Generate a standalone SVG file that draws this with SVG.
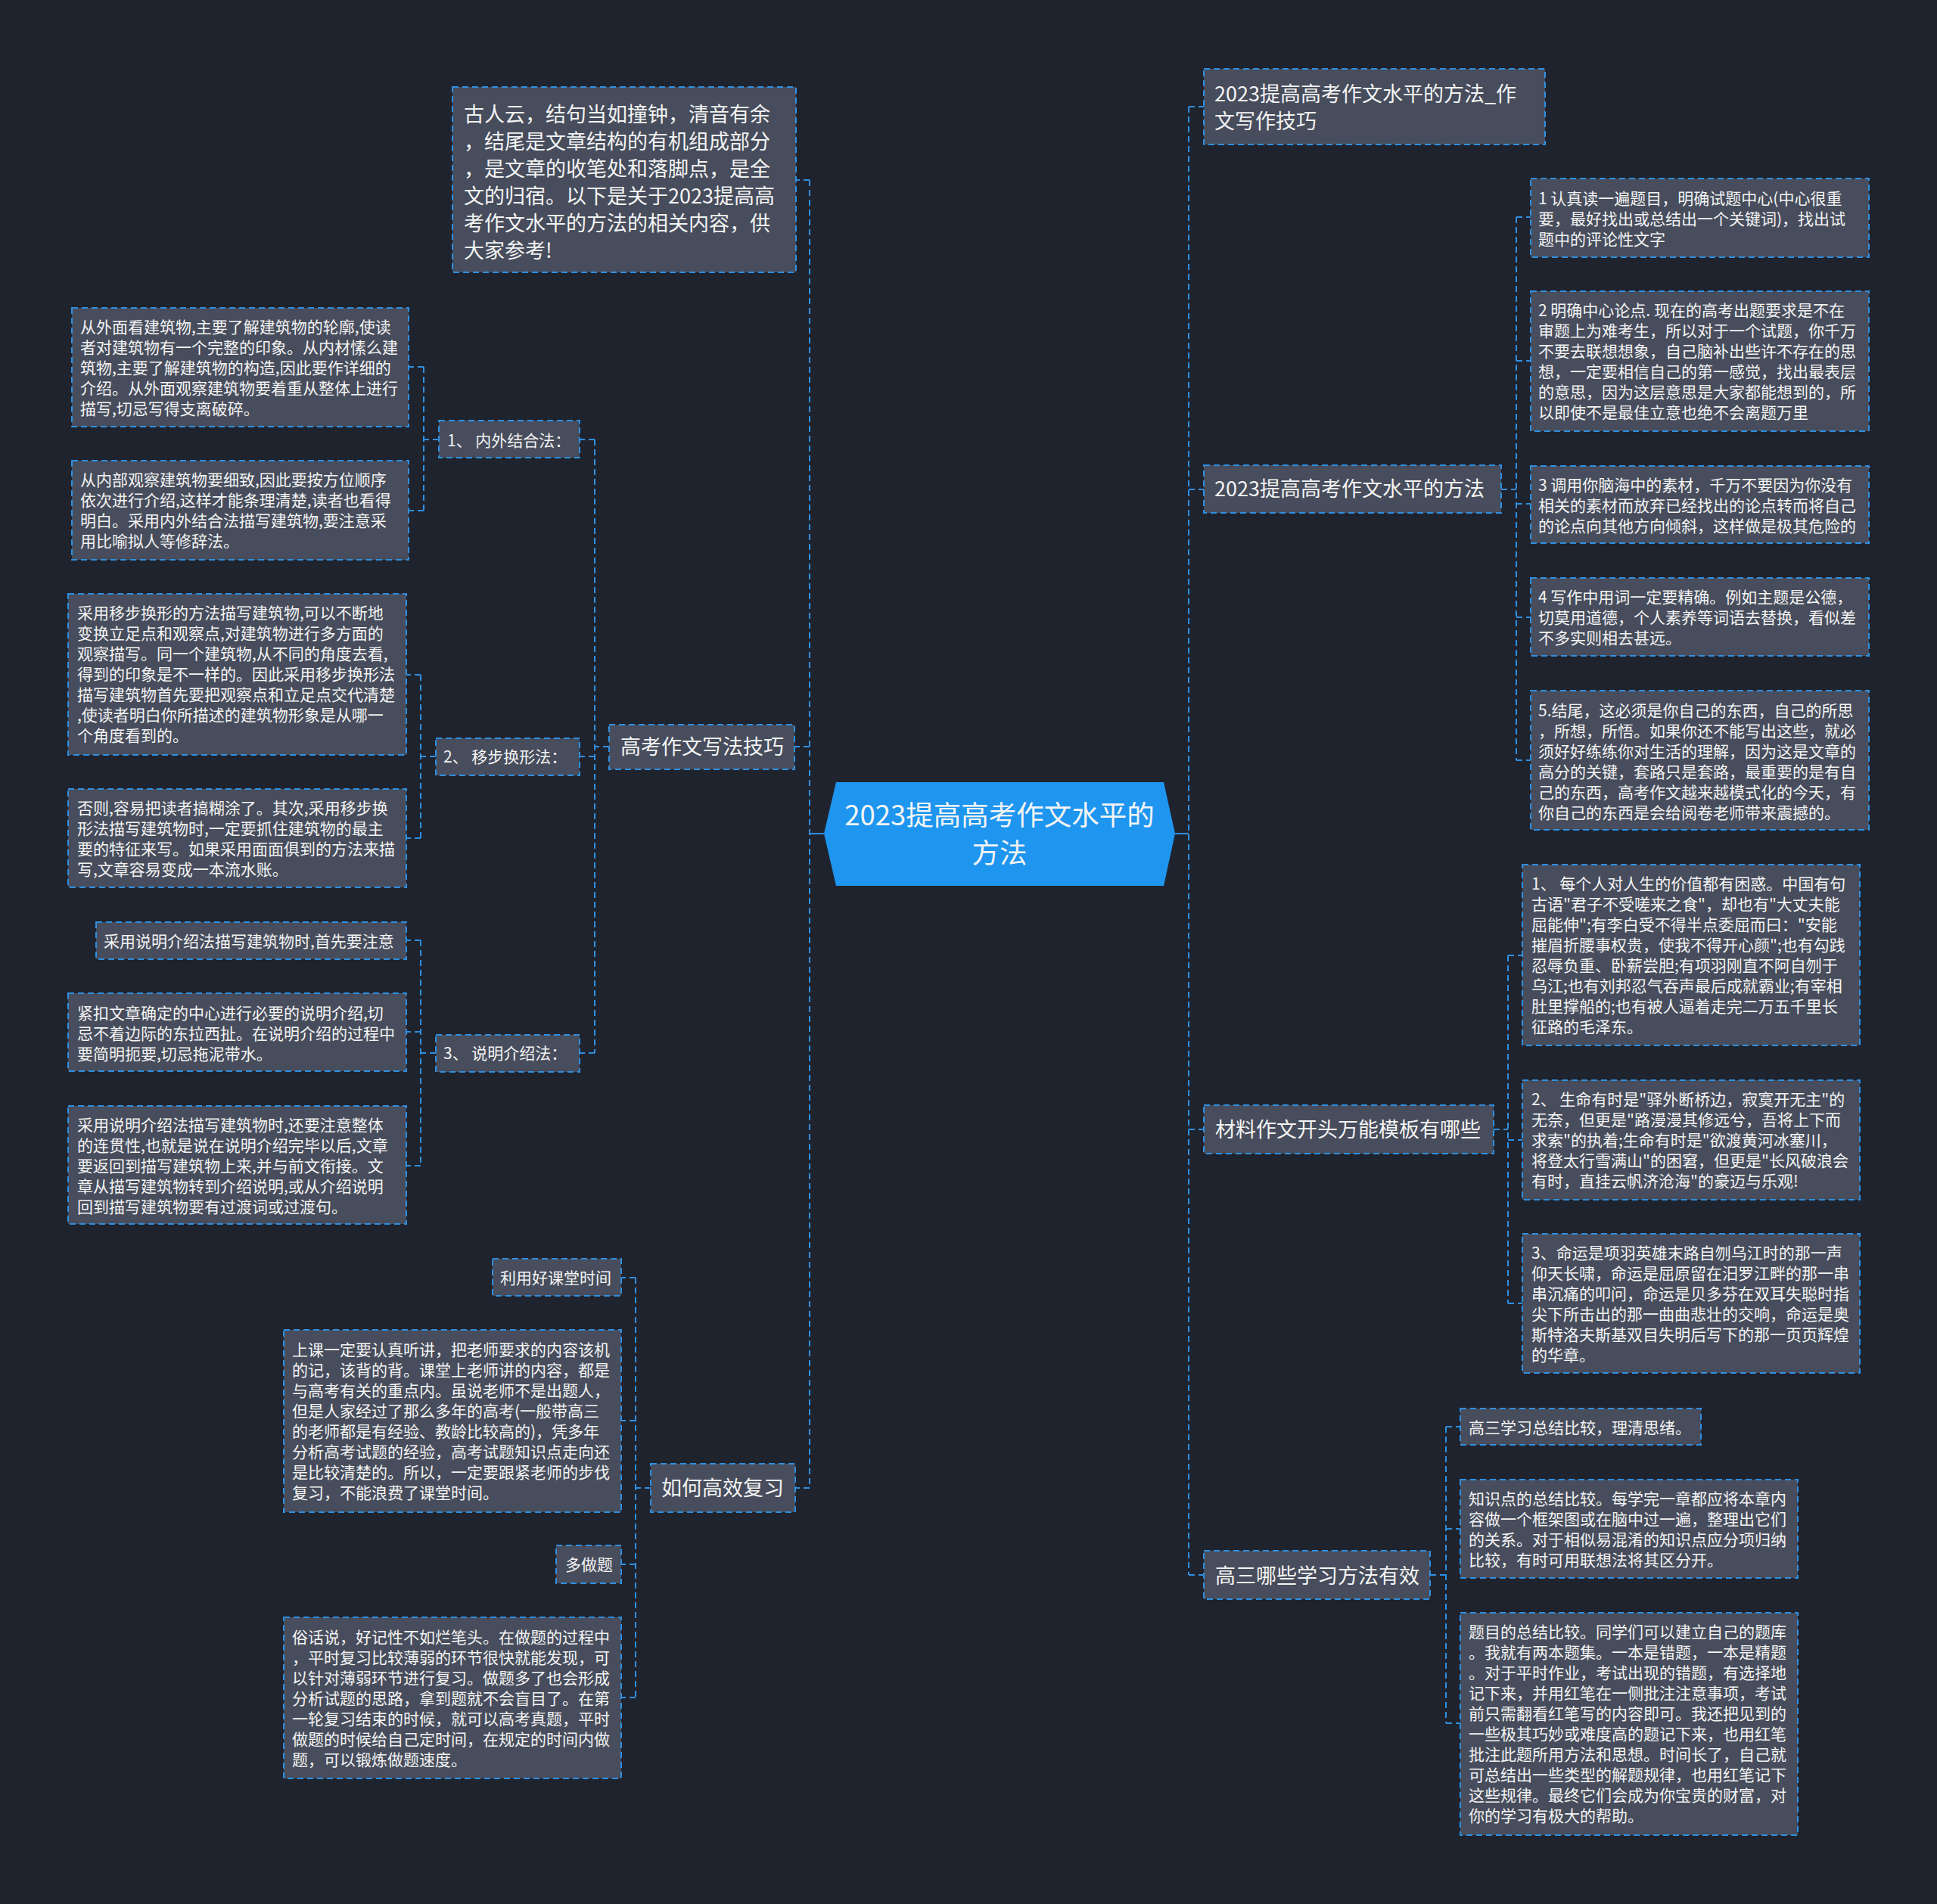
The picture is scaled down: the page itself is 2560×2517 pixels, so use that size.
<svg xmlns="http://www.w3.org/2000/svg" width="2560" height="2517" viewBox="0 0 2560 2517">
<style>
.n{fill:#474d5c;stroke:#2e8fe0;stroke-width:2;stroke-dasharray:8 5}
.c{fill:none;stroke:#2e8fe0;stroke-width:2;stroke-dasharray:8 5}
.cs{fill:none;stroke:#2e8fe0;stroke-width:2}
text{font-family:"Noto Sans CJK SC","Noto Sans",sans-serif;fill:#f4f4f4}
.s{font-size:21px}
.m{font-size:27px}
.r{font-size:36.5px;text-anchor:middle}
</style>
<rect width="2560" height="2517" fill="#1f232e"/>
<g id="connectors">
<path class="cs" d="M1089,1102H1070M1553,1102H1571"/>
<path class="c" d="M1070,238V1967M1070,238H1052M1070,987H1050M1070,1967H1051"/>
<path class="c" d="M1571,141V2082M1571,141H1591M1571,647H1591M1571,1493H1591M1571,2082H1591"/>
<path class="c" d="M805,987H786M786,581V1392M786,581H766M786,1000H766M786,1392H766"/>
<path class="c" d="M580,581H560M560,485V675M560,485H540M560,675H540"/>
<path class="c" d="M576,1000H556M556,892V1108M556,892H537M556,1108H537"/>
<path class="c" d="M576,1392H556M556,1243V1541M556,1243H537M556,1364H537M556,1541H537"/>
<path class="c" d="M860,1967H840M840,1689V2244M840,1689H821M840,1878H821M840,2068H821M840,2244H821"/>
<path class="c" d="M1984,647H2004M2004,287V1005M2004,287H2023M2004,477H2023M2004,666H2023M2004,816H2023M2004,1005H2023"/>
<path class="c" d="M1974,1493H1993M1993,1263V1723M1993,1263H2012M1993,1507H2012M1993,1723H2012"/>
<path class="c" d="M1890,2082H1911M1911,1886V2278M1911,1886H1930M1911,2021H1930M1911,2278H1930"/>
</g>
<g id="root">
<polygon points="1089,1102 1105,1034 1538,1034 1553,1102 1538,1171 1105,1171" fill="#1e96f0"/>
<text class="r" x="1321" y="1091">2023提高高考作文水平的</text>
<text class="r" x="1321" y="1141">方法</text>
</g>
<g id="intro">
<rect class="n" x="598" y="115" width="454" height="245"/>
<text class="m" x="613"><tspan x="613" y="161">古人云，结句当如撞钟，清音有余</tspan><tspan x="613" y="197">，结尾是文章结构的有机组成部分</tspan><tspan x="613" y="233">，是文章的收笔处和落脚点，是全</tspan><tspan x="613" y="269">文的归宿。以下是关于2023提高高</tspan><tspan x="613" y="305">考作文水平的方法的相关内容，供</tspan><tspan x="613" y="341">大家参考!</tspan></text>
</g>
<g id="writing">
<rect class="n" x="805" y="958" width="245" height="59"/>
<text class="m" x="820" y="997">高考作文写法技巧</text>
</g>
<g id="m1">
<rect class="n" x="580" y="556" width="186" height="49"/>
<text class="s" x="591" y="590">1、 内外结合法：</text>
</g>
<g id="leafA">
<rect class="n" x="95" y="407" width="445" height="157"/>
<text class="s"><tspan x="106" y="440">从外面看建筑物,主要了解建筑物的轮廓,使读</tspan><tspan x="106" y="467">者对建筑物有一个完整的印象。从内材愫么建</tspan><tspan x="106" y="494">筑物,主要了解建筑物的构造,因此要作详细的</tspan><tspan x="106" y="521">介绍。从外面观察建筑物要着重从整体上进行</tspan><tspan x="106" y="548">描写,切忌写得支离破碎。</tspan></text>
</g>
<g id="leafB">
<rect class="n" x="95" y="609" width="445" height="131"/>
<text class="s"><tspan x="106" y="642">从内部观察建筑物要细致,因此要按方位顺序</tspan><tspan x="106" y="669">依次进行介绍,这样才能条理清楚,读者也看得</tspan><tspan x="106" y="696">明白。采用内外结合法描写建筑物,要注意采</tspan><tspan x="106" y="723">用比喻拟人等修辞法。</tspan></text>
</g>
<g id="m2">
<rect class="n" x="576" y="976" width="190" height="49"/>
<text class="s" x="586" y="1008">2、 移步换形法：</text>
</g>
<g id="leafC">
<rect class="n" x="90" y="785" width="447" height="213"/>
<text class="s"><tspan x="102" y="818">采用移步换形的方法描写建筑物,可以不断地</tspan><tspan x="102" y="845">变换立足点和观察点,对建筑物进行多方面的</tspan><tspan x="102" y="872">观察描写。同一个建筑物,从不同的角度去看,</tspan><tspan x="102" y="899">得到的印象是不一样的。因此采用移步换形法</tspan><tspan x="102" y="926">描写建筑物首先要把观察点和立足点交代清楚</tspan><tspan x="102" y="953">,使读者明白你所描述的建筑物形象是从哪一</tspan><tspan x="102" y="980">个角度看到的。</tspan></text>
</g>
<g id="leafD">
<rect class="n" x="90" y="1043" width="447" height="130"/>
<text class="s"><tspan x="102" y="1076">否则,容易把读者搞糊涂了。其次,采用移步换</tspan><tspan x="102" y="1103">形法描写建筑物时,一定要抓住建筑物的最主</tspan><tspan x="102" y="1130">要的特征来写。如果采用面面俱到的方法来描</tspan><tspan x="102" y="1157">写,文章容易变成一本流水账。</tspan></text>
</g>
<g id="m3">
<rect class="n" x="576" y="1368" width="190" height="49"/>
<text class="s" x="586" y="1400">3、 说明介绍法：</text>
</g>
<g id="leafE">
<rect class="n" x="127" y="1219" width="410" height="49"/>
<text class="s" x="137" y="1252">采用说明介绍法描写建筑物时,首先要注意</text>
</g>
<g id="leafF">
<rect class="n" x="90" y="1313" width="447" height="103"/>
<text class="s"><tspan x="102" y="1347">紧扣文章确定的中心进行必要的说明介绍,切</tspan><tspan x="102" y="1374">忌不着边际的东拉西扯。在说明介绍的过程中</tspan><tspan x="102" y="1401">要简明扼要,切忌拖泥带水。</tspan></text>
</g>
<g id="leafG">
<rect class="n" x="90" y="1462" width="447" height="156"/>
<text class="s"><tspan x="102" y="1495">采用说明介绍法描写建筑物时,还要注意整体</tspan><tspan x="102" y="1522">的连贯性,也就是说在说明介绍完毕以后,文章</tspan><tspan x="102" y="1549">要返回到描写建筑物上来,并与前文衔接。文</tspan><tspan x="102" y="1576">章从描写建筑物转到介绍说明,或从介绍说明</tspan><tspan x="102" y="1603">回到描写建筑物要有过渡词或过渡句。</tspan></text>
</g>
<g id="review">
<rect class="n" x="860" y="1935" width="191" height="64"/>
<text class="m" x="874" y="1977">如何高效复习</text>
</g>
<g id="r1">
<rect class="n" x="651" y="1664" width="170" height="49"/>
<text class="s" x="661" y="1697">利用好课堂时间</text>
</g>
<g id="r2">
<rect class="n" x="375" y="1758" width="446" height="241"/>
<text class="s"><tspan x="386" y="1792">上课一定要认真听讲，把老师要求的内容该机</tspan><tspan x="386" y="1819">的记，该背的背。课堂上老师讲的内容，都是</tspan><tspan x="386" y="1846">与高考有关的重点内。虽说老师不是出题人，</tspan><tspan x="386" y="1873">但是人家经过了那么多年的高考(一般带高三</tspan><tspan x="386" y="1900">的老师都是有经验、教龄比较高的)，凭多年</tspan><tspan x="386" y="1927">分析高考试题的经验，高考试题知识点走向还</tspan><tspan x="386" y="1954">是比较清楚的。所以，一定要跟紧老师的步伐</tspan><tspan x="386" y="1981">复习，不能浪费了课堂时间。</tspan></text>
</g>
<g id="r3">
<rect class="n" x="735" y="2043" width="86" height="50"/>
<text class="s" x="747" y="2076">多做题</text>
</g>
<g id="r4">
<rect class="n" x="375" y="2138" width="446" height="213"/>
<text class="s"><tspan x="386" y="2172">俗话说，好记性不如烂笔头。在做题的过程中</tspan><tspan x="386" y="2199">，平时复习比较薄弱的环节很快就能发现，可</tspan><tspan x="386" y="2226">以针对薄弱环节进行复习。做题多了也会形成</tspan><tspan x="386" y="2253">分析试题的思路，拿到题就不会盲目了。在第</tspan><tspan x="386" y="2280">一轮复习结束的时候，就可以高考真题，平时</tspan><tspan x="386" y="2307">做题的时候给自己定时间，在规定的时间内做</tspan><tspan x="386" y="2334">题，可以锻炼做题速度。</tspan></text>
</g>
<g id="title">
<rect class="n" x="1591" y="91" width="451" height="100"/>
<text class="m"><tspan x="1605" y="134">2023提高高考作文水平的方法_作</tspan><tspan x="1605" y="170">文写作技巧</tspan></text>
</g>
<g id="method">
<rect class="n" x="1591" y="615" width="393" height="63"/>
<text class="m" x="1605" y="656">2023提高高考作文水平的方法</text>
</g>
<g id="c1">
<rect class="n" x="2023" y="236" width="447" height="104"/>
<text class="s"><tspan x="2033" y="270">1 认真读一遍题目，明确试题中心(中心很重</tspan><tspan x="2033" y="297">要，最好找出或总结出一个关键词)，找出试</tspan><tspan x="2033" y="324">题中的评论性文字</tspan></text>
</g>
<g id="c2">
<rect class="n" x="2023" y="385" width="447" height="185"/>
<text class="s"><tspan x="2033" y="418">2 明确中心论点. 现在的高考出题要求是不在</tspan><tspan x="2033" y="445">审题上为难考生，所以对于一个试题，你千万</tspan><tspan x="2033" y="472">不要去联想想象，自己脑补出些许不存在的思</tspan><tspan x="2033" y="499">想，一定要相信自己的第一感觉，找出最表层</tspan><tspan x="2033" y="526">的意思，因为这层意思是大家都能想到的，所</tspan><tspan x="2033" y="553">以即使不是最佳立意也绝不会离题万里</tspan></text>
</g>
<g id="c3">
<rect class="n" x="2023" y="616" width="447" height="102"/>
<text class="s"><tspan x="2033" y="649">3 调用你脑海中的素材，千万不要因为你没有</tspan><tspan x="2033" y="676">相关的素材而放弃已经找出的论点转而将自己</tspan><tspan x="2033" y="703">的论点向其他方向倾斜，这样做是极其危险的</tspan></text>
</g>
<g id="c4">
<rect class="n" x="2023" y="764" width="447" height="103"/>
<text class="s"><tspan x="2033" y="797">4 写作中用词一定要精确。例如主题是公德，</tspan><tspan x="2033" y="824">切莫用道德，个人素养等词语去替换，看似差</tspan><tspan x="2033" y="851">不多实则相去甚远。</tspan></text>
</g>
<g id="c5">
<rect class="n" x="2023" y="913" width="447" height="184"/>
<text class="s"><tspan x="2033" y="947">5.结尾，这必须是你自己的东西，自己的所思</tspan><tspan x="2033" y="974">，所想，所悟。如果你还不能写出这些，就必</tspan><tspan x="2033" y="1001">须好好练练你对生活的理解，因为这是文章的</tspan><tspan x="2033" y="1028">高分的关键，套路只是套路，最重要的是有自</tspan><tspan x="2033" y="1055">己的东西，高考作文越来越模式化的今天，有</tspan><tspan x="2033" y="1082">你自己的东西是会给阅卷老师带来震撼的。</tspan></text>
</g>
<g id="material">
<rect class="n" x="1591" y="1461" width="383" height="64"/>
<text class="m" x="1606" y="1503">材料作文开头万能模板有哪些</text>
</g>
<g id="mt1">
<rect class="n" x="2012" y="1143" width="446" height="239"/>
<text class="s"><tspan x="2024" y="1176">1、 每个人对人生的价值都有困惑。中国有句</tspan><tspan x="2024" y="1203">古语"君子不受嗟来之食"，却也有"大丈夫能</tspan><tspan x="2024" y="1230">屈能伸";有李白受不得半点委屈而曰："安能</tspan><tspan x="2024" y="1257">摧眉折腰事权贵，使我不得开心颜";也有勾践</tspan><tspan x="2024" y="1284">忍辱负重、卧薪尝胆;有项羽刚直不阿自刎于</tspan><tspan x="2024" y="1311">乌江;也有刘邦忍气吞声最后成就霸业;有宰相</tspan><tspan x="2024" y="1338">肚里撑船的;也有被人逼着走完二万五千里长</tspan><tspan x="2024" y="1365">征路的毛泽东。</tspan></text>
</g>
<g id="mt2">
<rect class="n" x="2012" y="1428" width="446" height="158"/>
<text class="s"><tspan x="2024" y="1461">2、 生命有时是"驿外断桥边，寂寞开无主"的</tspan><tspan x="2024" y="1488">无奈，但更是"路漫漫其修远兮，吾将上下而</tspan><tspan x="2024" y="1515">求索"的执着;生命有时是"欲渡黄河冰塞川，</tspan><tspan x="2024" y="1542">将登太行雪满山"的困窘，但更是"长风破浪会</tspan><tspan x="2024" y="1569">有时，直挂云帆济沧海"的豪迈与乐观!</tspan></text>
</g>
<g id="mt3">
<rect class="n" x="2012" y="1631" width="446" height="184"/>
<text class="s"><tspan x="2024" y="1664">3、命运是项羽英雄末路自刎乌江时的那一声</tspan><tspan x="2024" y="1691">仰天长啸，命运是屈原留在汨罗江畔的那一串</tspan><tspan x="2024" y="1718">串沉痛的叩问，命运是贝多芬在双耳失聪时指</tspan><tspan x="2024" y="1745">尖下所击出的那一曲曲悲壮的交响，命运是奥</tspan><tspan x="2024" y="1772">斯特洛夫斯基双目失明后写下的那一页页辉煌</tspan><tspan x="2024" y="1799">的华章。</tspan></text>
</g>
<g id="senior">
<rect class="n" x="1591" y="2050" width="299" height="64"/>
<text class="m" x="1606" y="2093">高三哪些学习方法有效</text>
</g>
<g id="h1">
<rect class="n" x="1930" y="1862" width="318" height="48"/>
<text class="s" x="1941" y="1895">高三学习总结比较，理清思绪。</text>
</g>
<g id="h2">
<rect class="n" x="1930" y="1956" width="446" height="130"/>
<text class="s"><tspan x="1941" y="1989">知识点的总结比较。每学完一章都应将本章内</tspan><tspan x="1941" y="2016">容做一个框架图或在脑中过一遍，整理出它们</tspan><tspan x="1941" y="2043">的关系。对于相似易混淆的知识点应分项归纳</tspan><tspan x="1941" y="2070">比较，有时可用联想法将其区分开。</tspan></text>
</g>
<g id="h3">
<rect class="n" x="1930" y="2132" width="446" height="294"/>
<text class="s"><tspan x="1941" y="2165">题目的总结比较。同学们可以建立自己的题库</tspan><tspan x="1941" y="2192">。我就有两本题集。一本是错题，一本是精题</tspan><tspan x="1941" y="2219">。对于平时作业，考试出现的错题，有选择地</tspan><tspan x="1941" y="2246">记下来，并用红笔在一侧批注注意事项，考试</tspan><tspan x="1941" y="2273">前只需翻看红笔写的内容即可。我还把见到的</tspan><tspan x="1941" y="2300">一些极其巧妙或难度高的题记下来，也用红笔</tspan><tspan x="1941" y="2327">批注此题所用方法和思想。时间长了，自己就</tspan><tspan x="1941" y="2354">可总结出一些类型的解题规律，也用红笔记下</tspan><tspan x="1941" y="2381">这些规律。最终它们会成为你宝贵的财富，对</tspan><tspan x="1941" y="2408">你的学习有极大的帮助。</tspan></text>
</g>
</svg>
